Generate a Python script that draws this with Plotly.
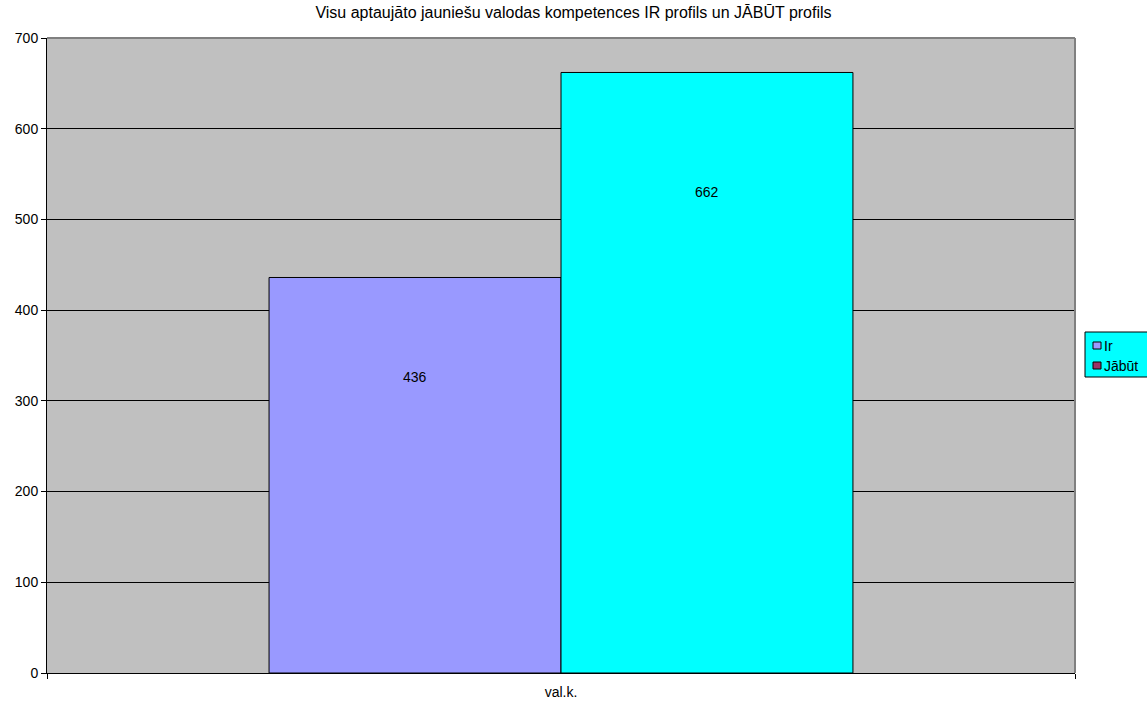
import plotly.graph_objects as go

# Chart data
categories = ["val.k."]
series_names = ["Ir", "Jābūt"]
ir_values = [436]
jabut_values = [662]
tick_values = [0, 100, 200, 300, 400, 500, 600, 700]

# Styling
bar_colors = ["#9999FF", "#00FFFF"]
legend_swatch_colors = ["#9999FF", "#993366"]
label_drop = [110, 132]  # label offset below each bar top, in data units

FONT = "Arial, Liberation Sans, sans-serif"
W, H = 1147, 702
M_L, M_R, M_T, M_B = 47, 72, 38, 29
PLOT_W = W - M_L - M_R
PLOT_H = H - M_T - M_B


def px_x(px):
    """Page pixel x -> paper coordinate."""
    return (px - M_L) / PLOT_W


def px_y(py):
    """Page pixel y -> paper coordinate."""
    return (H - M_B - py) / PLOT_H


fig = go.Figure()

series_values = [ir_values, jabut_values]
for i, (name, vals) in enumerate(zip(series_names, series_values)):
    fig.add_trace(go.Bar(
        x=categories, y=vals, name=name,
        marker=dict(color=bar_colors[i], line=dict(color="black", width=1)),
        showlegend=False,
    ))

# value labels inside the bars
n = len(series_values)
for i, vals in enumerate(series_values):
    fig.add_annotation(
        x=0, y=vals[0] - label_drop[i], xref="x", yref="y",
        text=str(vals[0]), showarrow=False,
        font=dict(family=FONT, size=14, color="black"),
        xshift=(i - (n - 1) / 2) * 292,
    )

shapes = [
    # grey frame on the top and right of the plot area
    dict(type="line", xref="paper", yref="paper", x0=0, x1=1, y0=1, y1=1,
         line=dict(color="#808080", width=2)),
    dict(type="line", xref="paper", yref="paper", x0=1, x1=1, y0=0, y1=1,
         line=dict(color="#808080", width=2)),
    # legend box
    dict(type="rect", xref="paper", yref="paper",
         x0=px_x(1085), x1=px_x(1152), y0=px_y(377), y1=px_y(332),
         fillcolor="#00FFFF", line=dict(color="black", width=1)),
]

for i, name in enumerate(series_names):
    top = 342 + 20 * i
    shapes.append(dict(
        type="rect", xref="paper", yref="paper",
        x0=px_x(1093), x1=px_x(1101), y0=px_y(top + 7), y1=px_y(top),
        fillcolor=legend_swatch_colors[i], line=dict(color="black", width=1),
    ))
    fig.add_annotation(
        x=px_x(1102), y=px_y(top + 3.5), xref="paper", yref="paper",
        text=name, showarrow=False, xanchor="left", yanchor="middle",
        font=dict(family=FONT, size=14, color="black"),
    )

fig.update_layout(
    width=W, height=H,
    margin=dict(l=M_L, r=M_R, t=M_T, b=M_B, autoexpand=False),
    paper_bgcolor="white",
    plot_bgcolor="#C0C0C0",
    barmode="group",
    bargap=0.432,
    bargroupgap=0,
    font=dict(family=FONT, size=14, color="black"),
    title=dict(
        text="Visu aptaujāto jauniešu valodas kompetences IR profils un JĀBŪT profils",
        x=0.5, xref="container", xanchor="center",
        y=0.983, yref="container", yanchor="middle",
        font=dict(family=FONT, size=16, color="black"),
    ),
    xaxis=dict(
        type="category", automargin=False,
        showline=True, linecolor="black", linewidth=1,
        ticks="outside", ticklen=5, tickcolor="black", tickson="boundaries",
        ticklabelstandoff=6,
        showgrid=False, zeroline=False,
        tickfont=dict(family=FONT, size=14),
    ),
    yaxis=dict(
        range=[0, 700], automargin=False,
        tickvals=tick_values,
        showline=True, linecolor="black", linewidth=1,
        ticks="outside", ticklen=5, tickcolor="black",
        showgrid=True, gridcolor="black", gridwidth=1,
        zeroline=False,
        tickfont=dict(family=FONT, size=14),
    ),
    shapes=shapes,
)

fig.write_html("out.html")
